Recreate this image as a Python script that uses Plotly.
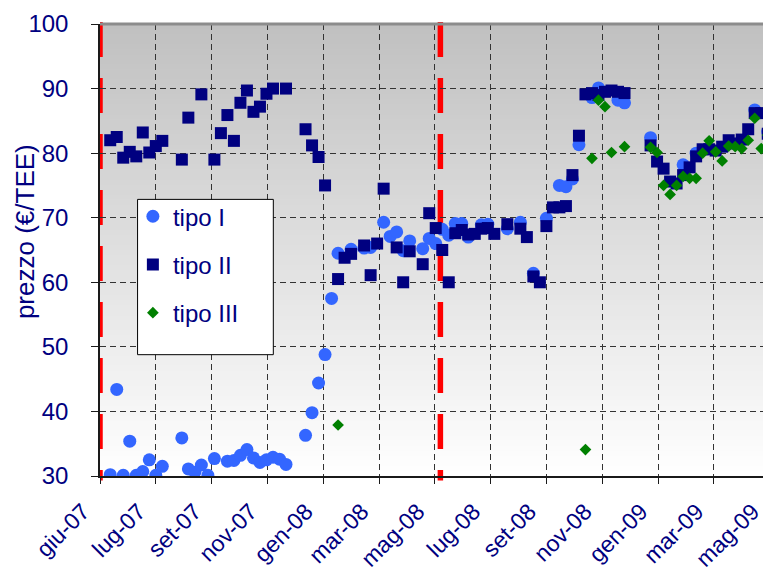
import plotly.graph_objects as go

# weekly session prices (EUR/TEE)
tipo1_date = [
    "2007-06-12", "2007-06-19", "2007-06-26", "2007-07-03", "2007-07-10", "2007-07-17",
    "2007-07-24", "2007-07-31", "2007-08-07", "2007-08-28", "2007-09-04", "2007-09-11",
    "2007-09-18", "2007-09-25", "2007-10-02", "2007-10-16", "2007-10-23", "2007-10-30",
    "2007-11-06", "2007-11-13", "2007-11-20", "2007-11-27", "2007-12-04", "2007-12-11",
    "2007-12-18", "2008-01-08", "2008-01-15", "2008-01-22", "2008-01-29", "2008-02-05",
    "2008-02-12", "2008-02-26", "2008-03-11", "2008-03-18", "2008-04-01", "2008-04-08",
    "2008-04-15", "2008-04-22", "2008-04-29", "2008-05-13", "2008-05-20", "2008-05-27",
    "2008-06-03", "2008-06-10", "2008-06-17", "2008-06-24", "2008-07-01", "2008-07-15",
    "2008-07-22", "2008-08-12", "2008-08-26", "2008-09-09", "2008-09-23", "2008-10-07",
    "2008-10-14", "2008-10-21", "2008-10-28", "2008-11-11", "2008-11-18", "2008-12-09",
    "2008-12-16", "2009-01-13", "2009-02-17", "2009-03-03", "2009-05-05", "2009-05-19",
]
tipo1_val = [
    30.2, 43.4, 30.1, 35.4, 30.1, 30.7,
    32.5, 30.1, 31.5, 35.9, 31.1, 30.6,
    31.7, 30.1, 32.7, 32.3, 32.4, 33.2,
    34.1, 32.8, 32.1, 32.5, 32.9, 32.6,
    31.8, 36.3, 39.8, 44.4, 48.8, 57.5,
    64.5, 65.1, 65.3, 65.4, 69.3, 67.1,
    67.8, 64.9, 66.4, 65.2, 66.8, 66.0,
    68.2, 67.3, 69.1, 69.1, 67.0, 68.9,
    69.0, 68.3, 69.3, 61.4, 69.9, 75.0,
    74.8, 76.0, 81.3, 88.6, 90.1, 88.2,
    87.8, 82.4, 78.2, 80.0, 86.7, 83.3,
]

tipo2_date = [
    "2007-06-12", "2007-06-19", "2007-06-26", "2007-07-03", "2007-07-10", "2007-07-17",
    "2007-07-24", "2007-07-31", "2007-08-07", "2007-08-28", "2007-09-04", "2007-09-18",
    "2007-10-02", "2007-10-09", "2007-10-16", "2007-10-23", "2007-10-30", "2007-11-06",
    "2007-11-13", "2007-11-20", "2007-11-27", "2007-12-04", "2007-12-18", "2008-01-08",
    "2008-01-15", "2008-01-22", "2008-01-29", "2008-02-12", "2008-02-19", "2008-02-26",
    "2008-03-11", "2008-03-18", "2008-03-25", "2008-04-01", "2008-04-15", "2008-04-22",
    "2008-04-29", "2008-05-13", "2008-05-20", "2008-05-27", "2008-06-03", "2008-06-10",
    "2008-06-17", "2008-06-24", "2008-07-01", "2008-07-08", "2008-07-15", "2008-07-22",
    "2008-07-29", "2008-08-12", "2008-08-26", "2008-09-02", "2008-09-09", "2008-09-16",
    "2008-09-23", "2008-09-30", "2008-10-07", "2008-10-14", "2008-10-21", "2008-10-28",
    "2008-11-04", "2008-11-11", "2008-11-18", "2008-11-25", "2008-12-02", "2008-12-09",
    "2008-12-16", "2009-01-13", "2009-01-20", "2009-01-27", "2009-02-03", "2009-02-10",
    "2009-02-17", "2009-02-24", "2009-03-03", "2009-03-10", "2009-03-17", "2009-03-24",
    "2009-03-31", "2009-04-07", "2009-04-14", "2009-04-21", "2009-04-28", "2009-05-05",
    "2009-05-12", "2009-05-19",
]
tipo2_val = [
    82.0, 82.5, 79.3, 80.2, 79.5, 83.2,
    80.1, 81.1, 81.9, 79.0, 85.5, 89.1,
    79.0, 83.1, 85.9, 81.9, 87.8, 89.7,
    86.4, 87.2, 89.2, 90.0, 90.0, 83.7,
    81.2, 79.4, 75.0, 60.5, 63.8, 64.4,
    65.7, 61.1, 66.0, 74.5, 65.4, 60.0,
    64.8, 62.8, 70.7, 68.4, 65.0, 60.0,
    67.6, 68.1, 67.4, 67.5, 68.3, 68.4,
    67.5, 69.0, 68.3, 67.0, 60.9, 60.0,
    68.7, 71.6, 71.6, 71.8, 76.6, 82.7,
    89.1, 89.3, 89.0, 89.5, 89.7, 89.5,
    89.3, 81.2, 78.7, 77.6, 75.6, 75.3,
    76.6, 77.8, 79.5, 80.6, 80.6, 80.4,
    81.0, 82.0, 81.5, 82.1, 83.7, 86.2,
    86.2, 83.0,
]

tipo3_date = [
    "2008-02-12", "2008-11-04", "2008-11-11", "2008-11-18", "2008-11-25", "2008-12-02",
    "2008-12-16", "2009-01-13", "2009-01-20", "2009-01-27", "2009-02-03", "2009-02-10",
    "2009-02-17", "2009-02-24", "2009-03-03", "2009-03-10", "2009-03-17", "2009-03-24",
    "2009-03-31", "2009-04-07", "2009-04-14", "2009-04-21", "2009-04-28", "2009-05-05",
    "2009-05-12", "2009-05-19",
]
tipo3_val = [
    37.9, 34.1, 79.2, 88.2, 87.2, 80.1,
    81.0, 80.9, 80.1, 75.0, 73.6, 75.0,
    76.4, 76.1, 76.1, 80.0, 81.9, 80.2,
    78.8, 81.1, 81.0, 80.7, 82.0, 85.4,
    80.7, 82.8,
]

# excel date axis: a label every 60 days starting at the axis minimum
tick_dates = [
    "2007-06-01", "2007-07-31", "2007-09-29", "2007-11-28", "2008-01-27", "2008-03-27",
    "2008-05-26", "2008-07-25", "2008-09-23", "2008-11-22", "2009-01-21", "2009-03-22",
    "2009-05-21",
]
tick_text = [
    "giu-07", "lug-07", "set-07", "nov-07", "gen-08", "mar-08",
    "mag-08", "lug-08", "set-08", "nov-08", "gen-09", "mar-09",
    "mag-09",
]
period_starts = ["2007-06-01", "2008-06-01"]

NAVY = "#000080"
FONT = "Arial, Liberation Sans, sans-serif"

fig = go.Figure()

fig.add_trace(go.Scatter(
    x=tipo1_date, y=tipo1_val, mode="markers", name="tipo I", legendgroup="g1",
    marker=dict(symbol="circle", size=13, color="#3366ff"),
))
fig.add_trace(go.Scatter(
    x=tipo2_date, y=tipo2_val, mode="markers", name="tipo II", legendgroup="g2",
    marker=dict(symbol="square", size=12, color=NAVY),
))
fig.add_trace(go.Scatter(
    x=tipo3_date, y=tipo3_val, mode="markers", name="tipo III", legendgroup="g3",
    marker=dict(symbol="diamond", size=9, color="#008000"),
))

# grey-to-white gradient behind the plot area
n_bands = 90
for i in range(n_bands):
    y0 = i / n_bands
    y1 = (i + 1) / n_bands
    g = int(round(255 - 63 * (y0 + y1) / 2))
    fig.add_shape(
        type="rect", xref="paper", yref="paper",
        x0=0, x1=1, y0=y0, y1=min(1, y1 + 0.002),
        line=dict(width=0), fillcolor=f"rgb({g},{g},{g})", layer="below",
    )

# red dashed markers at the start of each period
for d in period_starts:
    fig.add_shape(
        type="line", xref="x", yref="paper",
        x0=d, x1=d, y0=1.0044, y1=-0.01,
        line=dict(color="#ff0000", width=5.5, dash="35px,21px"),
        layer="between",
    )

# plot area top border
fig.add_shape(
    type="line", xref="paper", yref="paper", x0=0, x1=1, y0=1, y1=1,
    line=dict(color="#8c8c8c", width=3), layer="above",
)

# legend box
fig.add_shape(
    type="rect", xref="paper", yref="paper",
    x0=0.056, x1=0.2583, y0=0.2684, y1=0.612,
    line=dict(color="black", width=1), fillcolor="white", layer="above",
)

fig.add_annotation(
    text="prezzo (€/TEE)", xref="paper", yref="paper",
    x=-0.112, y=0.5415, xanchor="center", yanchor="middle",
    textangle=-90, showarrow=False,
    font=dict(family=FONT, size=26, color=NAVY),
)

fig.update_xaxes(
    type="date",
    range=["2007-06-01", "2009-05-22 12:00"],
    tickmode="array", tickvals=tick_dates, ticktext=tick_text,
    tickangle=-45,
    tickfont=dict(family=FONT, size=23, color=NAVY),
    ticklabelshift=-17, ticklabelstandoff=5,
    showgrid=True, gridcolor="#333333", gridwidth=1, griddash="6px,4px",
    showline=True, linecolor="#1a1a1a", linewidth=2,
    ticks="outside", ticklen=6, tickcolor="#1a1a1a",
    zeroline=False, automargin=False,
)
fig.update_yaxes(
    range=[30, 100], tick0=30, dtick=10,
    tickfont=dict(family=FONT, size=24, color=NAVY),
    showgrid=True, gridcolor="#333333", gridwidth=1, griddash="6px,4px",
    showline=True, linecolor="#1a1a1a", linewidth=1.5,
    ticks="outside", ticklen=7, tickcolor="#1a1a1a",
    ticklabelstandoff=18,
    zeroline=False, automargin=False,
)

# the page adds an 8px body margin, so the figure is 8px smaller than the window
fig.update_layout(
    width=763, height=564,
    margin=dict(l=92, r=0, t=16, b=96, autoexpand=False),
    paper_bgcolor="white",
    plot_bgcolor="white",
    font=dict(family=FONT, color=NAVY),
    showlegend=True,
    legend=dict(
        x=0.049, y=0.6235, xanchor="left", yanchor="top",
        bgcolor="rgba(0,0,0,0)", borderwidth=0,
        font=dict(family=FONT, size=24, color=NAVY),
        traceorder="grouped", tracegroupgap=14,
    ),
)

fig.write_html("out.html")
